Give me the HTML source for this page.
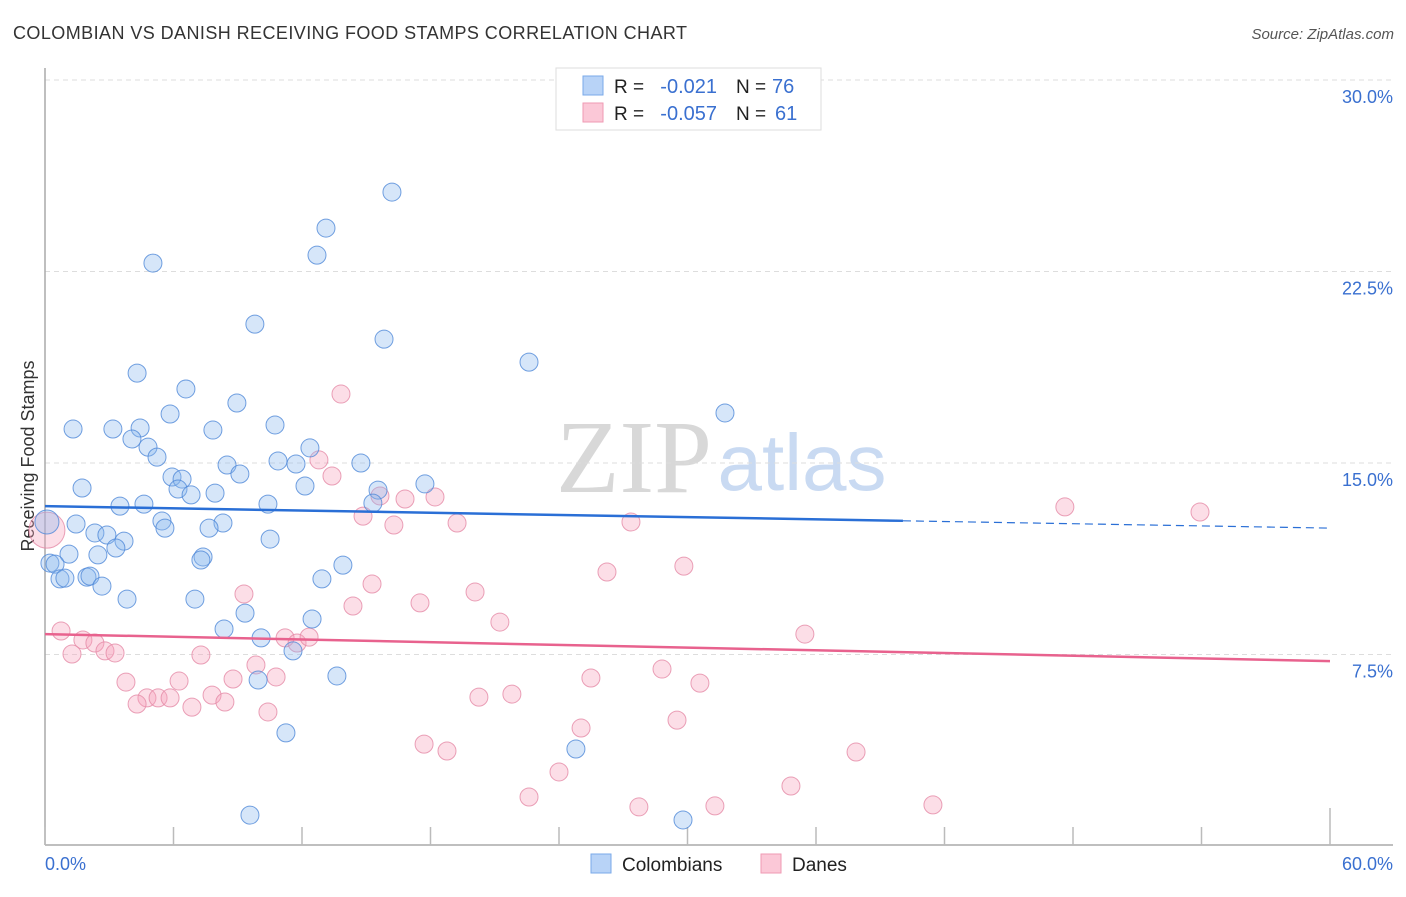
<!DOCTYPE html>
<html><head><meta charset="utf-8"><style>
body{margin:0;background:#fff;width:1406px;height:892px;overflow:hidden;font-family:"Liberation Sans",sans-serif}
</style></head><body>
<svg width="1406" height="892" id="chart">
<text x="13" y="39" font-size="18" fill="#333" textLength="674">COLOMBIAN VS DANISH RECEIVING FOOD STAMPS CORRELATION CHART</text>
<text x="1394" y="39" font-size="15" fill="#555" font-style="italic" text-anchor="end">Source: ZipAtlas.com</text>
<text x="0" y="0" transform="translate(34,456) rotate(-90)" font-size="18" fill="#333" text-anchor="middle">Receiving Food Stamps</text>
<g>
<text x="634" y="492" font-size="104" font-family="Liberation Serif,serif" fill="#d8d8d8" text-anchor="middle">ZIP</text>
<text x="802" y="490" font-size="80" fill="#c9daf2" text-anchor="middle">atlas</text>
</g>
<g id="grid"></g><g id="axes"></g><g id="pts"></g><g id="trends"></g>
<g>
<rect x="556" y="68" width="265" height="62" fill="#fff" stroke="#ddd"/>
<rect x="583" y="76" width="20" height="19" fill="#b8d3f7" stroke="#7aaae8"/>
<rect x="583" y="103" width="20" height="19" fill="#fbc8d7" stroke="#ef9ab3"/>
<text x="614" y="93" font-size="19" fill="#222">R =</text>
<text x="717" y="93" font-size="20" fill="#3a70d0" text-anchor="end">-0.021</text>
<text x="736" y="93" font-size="19" fill="#222">N =</text>
<text x="772" y="93" font-size="20" fill="#3a70d0">76</text>
<text x="614" y="120" font-size="19" fill="#222">R =</text>
<text x="717" y="120" font-size="20" fill="#3a70d0" text-anchor="end">-0.057</text>
<text x="736" y="120" font-size="19" fill="#222">N =</text>
<text x="775" y="120" font-size="20" fill="#3a70d0">61</text>
</g>
<g>
<rect x="591" y="854" width="20" height="19" fill="#b8d3f7" stroke="#7aaae8"/>
<text x="622" y="871" font-size="19" fill="#222">Colombians</text>
<rect x="761" y="854" width="20" height="19" fill="#fbc8d7" stroke="#ef9ab3"/>
<text x="792" y="871" font-size="19" fill="#222">Danes</text>
</g>
</svg>
<script>
const yTicks=[7.5,15,22.5,30];
const yTickLabels=["7.5%","15.0%","22.5%","30.0%"];
const xTicks=[0,6,12,18,24,30,36,42,48,54,60];
const blueX=[16.20,13.12,12.70,5.04,9.80,15.83,22.60,4.30,6.58,8.96,31.75,5.84,1.31,3.17,4.44,7.84,10.74,4.06,4.81,12.37,5.23,8.50,10.88,11.72,14.75,5.93,6.40,1.73,6.21,6.82,7.94,12.14,15.55,17.74,9.10,3.50,4.62,10.41,15.31,1.45,5.46,5.60,8.31,7.66,2.33,2.89,3.69,10.51,3.31,1.12,2.47,7.38,7.28,0.23,0.47,0.70,0.93,1.96,2.10,2.66,13.91,12.93,3.83,7.00,9.34,12.47,8.36,10.09,11.58,13.63,9.95,11.25,24.79,9.57,29.79,0.09];
const blueY=[25.61,24.20,23.14,22.83,20.44,19.85,18.95,18.52,17.90,17.35,16.96,16.92,16.33,16.33,16.37,16.29,16.49,15.94,15.62,15.59,15.23,14.92,15.08,14.96,15.00,14.45,14.37,14.02,13.98,13.75,13.82,14.10,13.94,14.18,14.57,13.31,13.39,13.39,13.43,12.61,12.73,12.45,12.65,12.45,12.26,12.18,11.94,12.02,11.67,11.43,11.40,11.32,11.20,11.08,11.04,10.46,10.49,10.53,10.57,10.18,11.00,10.46,9.67,9.67,9.12,8.89,8.50,8.15,7.64,6.66,6.50,4.43,3.80,1.21,1.02,12.69];
const pinkX=[13.82,12.79,13.40,15.64,16.81,18.21,14.85,16.29,19.24,27.36,47.62,53.93,0.09,26.24,29.83,15.27,20.08,9.29,14.38,17.51,21.24,35.48,0.75,1.77,2.33,2.80,3.27,1.26,7.28,11.21,11.77,12.33,9.85,28.81,3.78,6.26,8.78,10.79,25.49,30.58,7.80,8.40,21.80,20.26,4.76,5.28,5.84,4.30,6.86,10.41,25.03,29.51,17.70,18.77,37.87,24.00,22.60,34.83,27.73,31.28,41.46];
const pinkY=[17.70,15.12,14.49,13.71,13.59,13.67,12.92,12.57,12.65,12.69,13.28,13.08,12.37,10.73,10.96,10.26,9.95,9.87,9.40,9.52,8.77,8.30,8.42,8.07,7.95,7.64,7.56,7.52,7.48,8.15,7.95,8.18,7.09,6.93,6.42,6.46,6.54,6.62,6.58,6.38,5.91,5.64,5.95,5.83,5.80,5.80,5.80,5.56,5.44,5.25,4.62,4.93,3.99,3.72,3.68,2.90,1.92,2.35,1.53,1.57,1.61];
const blueTrend=[13.31,12.45];
const pinkTrend=[8.30,7.24];
const blueSolidEnd=40.06;
const NS='http://www.w3.org/2000/svg';
const X=v=>45+v/60*1285, Y=v=>846-v/7.5*191.5;
function mk(p,t,a){const e=document.createElementNS(NS,t);for(const k in a)e.setAttribute(k,a[k]);document.getElementById(p).appendChild(e);return e;}
yTicks.forEach((t,i)=>{
 const l=mk('grid','line',{x1:45,x2:1393,y1:Y(t),y2:Y(t),stroke:'#ddd','stroke-dasharray':'5,4'});
 
 
 const tx=mk('grid','text',{x:1393,y:Y(t)+23,'font-size':18,fill:'#3a70d0','text-anchor':'end'});
 tx.textContent=yTickLabels[i];
 
 
});
const ya=mk('axes','line',{x1:45,x2:45,y1:68,y2:845,stroke:'#aaa','stroke-width':1.5});


const xa=mk('axes','line',{x1:45,x2:1393,y1:845,y2:845,stroke:'#aaa','stroke-width':1.5});


xTicks.forEach((t,i)=>{
 const tk=mk('axes','line',{x1:X(t),x2:X(t),y1:(i==xTicks.length-1?808:827),y2:845,stroke:'#bbb','stroke-width':1.5});
 
 
});
const xl0=mk('axes','text',{x:45,y:870,'font-size':18,fill:'#3a70d0'});xl0.textContent='0.0%';


const xl1=mk('axes','text',{x:1393,y:870,'font-size':18,fill:'#3a70d0','text-anchor':'end'});xl1.textContent='60.0%';


function pts(xs,ys,fill,stroke,name,bigR){
 xs.forEach((x,i)=>{
  const r=(x<0.2)?bigR:9;
  const c=mk('pts','circle',{cx:X(x),cy:Y(ys[i]),r:r,fill:fill,'fill-opacity':0.35,stroke:stroke,'stroke-opacity':0.8,'stroke-width':1});
  
  
 });
}
pts(pinkX,pinkY,'#f5a0ba','#e58aa6','dane-point',18);
pts(blueX,blueY,'#8ab8ef','#4f88d8','colombian-point',12);
const t1=mk('trends','line',{x1:X(0),y1:Y(blueTrend[0]),x2:X(blueSolidEnd),y2:Y(blueTrend[0]+(blueTrend[1]-blueTrend[0])*blueSolidEnd/60),stroke:'#2a6fd6','stroke-width':2.5});


const t2=mk('trends','line',{x1:X(blueSolidEnd),y1:Y(blueTrend[0]+(blueTrend[1]-blueTrend[0])*blueSolidEnd/60),x2:X(60),y2:Y(blueTrend[1]),stroke:'#2a6fd6','stroke-width':1.2,'stroke-dasharray':'8,5'});


const t3=mk('trends','line',{x1:X(0),y1:Y(pinkTrend[0]),x2:X(60),y2:Y(pinkTrend[1]),stroke:'#e8628e','stroke-width':2.5});


</script>
</body></html>
